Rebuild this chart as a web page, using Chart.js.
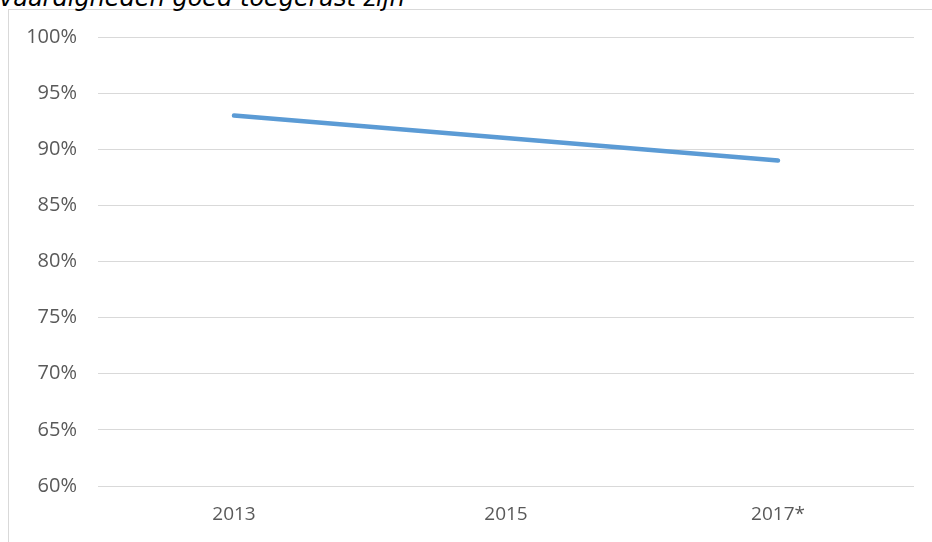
<!DOCTYPE html>
<html>
<head>
<meta charset="utf-8">
<script src="https://cdn.jsdelivr.net/npm/chart.js@4.4.0/dist/chart.umd.min.js"></script>
<style>
  body { margin: 0; background: #fff; overflow: hidden; }
  #title {
    position: absolute; left: -1px; top: -16px; line-height: 28px;
    font-family: "DejaVu Sans", Verdana, sans-serif; font-style: italic;
    font-size: 24px; color: #000; white-space: nowrap;
  }
  #box {
    position: absolute; left: 8px; top: 9px; width: 924px; height: 533px;
    border-left: 1px solid #d9d9d9; border-top: 1px solid #d9d9d9;
  }
  #wrap { position: absolute; left: 9px; top: 10px; width: 923px; height: 532px; }
</style>
</head>
<body>
<div id="box"></div>
<div id="title">vaardigheden goed toegerust zijn</div>
<div id="wrap"><canvas id="chart"></canvas></div>
<script>
var years = ['2013', '2015', '2017*'];
var shareValues = [93, 91, 89];
var yMin = 60;
var yMax = 100;
var yStep = 5;

var ctx = document.getElementById('chart');
var myChart = new Chart(ctx, {
  type: 'line',
  data: {
    labels: years,
    datasets: [{
      label: 'aandeel',
      data: shareValues,
      borderColor: '#5b9bd5',
      borderWidth: 4.5,
      borderCapStyle: 'round',
      pointRadius: 0,
      pointHoverRadius: 0,
      fill: false,
      tension: 0
    }]
  },
  options: {
    responsive: true,
    maintainAspectRatio: false,
    animation: false,
    layout: { padding: { top: 27, right: 18, left: 0, bottom: 0 } },
    plugins: {
      legend: { display: false },
      tooltip: { enabled: false }
    },
    scales: {
      x: {
        offset: true,
        grid: { display: false, drawTicks: false },
        border: { display: false },
        ticks: {
          color: '#595959',
          padding: 17,
          font: { family: 'Open Sans', size: 19 }
        },
        afterFit: function (scale) { scale.height = 56; }
      },
      y: {
        min: yMin,
        max: yMax,
        grid: { color: '#d9d9d9', lineWidth: 1, drawTicks: false },
        border: { display: false },
        ticks: {
          stepSize: yStep,
          color: '#595959',
          padding: 21,
          font: { family: 'Open Sans', size: 20 },
          callback: function (v) { return v + '%'; }
        },
        afterFit: function (scale) {
          scale.width = 89;
          // tick padding would otherwise push the plot area down
          scale.paddingTop = 0;
          scale.paddingBottom = 0;
        }
      }
    }
  }
});
</script>
</body>
</html>
